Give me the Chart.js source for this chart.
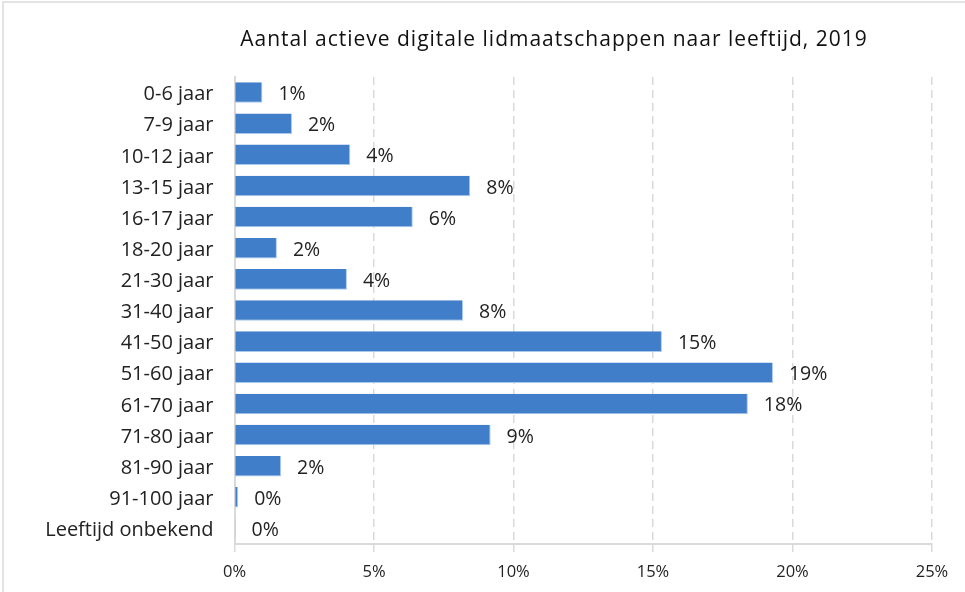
<!DOCTYPE html>
<html>
<head>
<meta charset="utf-8">
<script src="https://cdn.jsdelivr.net/npm/chart.js@4/dist/chart.umd.min.js"></script>
<style>
  html, body { margin: 0; padding: 0; background: #fff; }
  #wrap { width: 965px; height: 592px; position: relative; }
</style>
</head>
<body>
<div id="wrap"><canvas id="chart" width="965" height="592"></canvas></div>
<script>
const title = "Aantal actieve digitale lidmaatschappen naar leeftijd, 2019";
const categories = ["0-6 jaar", "7-9 jaar", "10-12 jaar", "13-15 jaar", "16-17 jaar", "18-20 jaar",
  "21-30 jaar", "31-40 jaar", "41-50 jaar", "51-60 jaar", "61-70 jaar", "71-80 jaar",
  "81-90 jaar", "91-100 jaar", "Leeftijd onbekend"];
// share of members in percent
const shares = [1.0, 2.06, 4.15, 8.45, 6.39, 1.52, 4.03, 8.19, 15.32, 19.3, 18.4, 9.18, 1.67, 0.13, 0.04];
const xTicks = [0, 5, 10, 15, 20, 25];

const FONT = "'Open Sans', Roboto, sans-serif";

// value labels at the end of each bar
const barLabels = {
  id: "barLabels",
  afterDatasetsDraw(chart) {
    const ctx = chart.ctx;
    const meta = chart.getDatasetMeta(0);
    ctx.save();
    ctx.font = "19.5px " + FONT;
    ctx.fillStyle = "#222";
    ctx.textBaseline = "middle";
    ctx.textAlign = "left";
    meta.data.forEach((bar, i) => {
      ctx.fillText(Math.round(shares[i]) + "%", bar.x + 16, bar.y + 2);
    });
    ctx.restore();
  }
};

// title + thin frame
const frame = {
  id: "frame",
  afterDraw(chart) {
    const ctx = chart.ctx;
    ctx.save();
    ctx.strokeStyle = "#e3e3e3";
    ctx.lineWidth = 2;
    ctx.strokeRect(3, 2, 1000, 1000);
    ctx.font = "21px " + FONT;
    ctx.letterSpacing = "1px";
    ctx.fillStyle = "#111";
    ctx.textAlign = "center";
    ctx.textBaseline = "middle";
    ctx.fillText(title, 554, 40);
    ctx.restore();
  }
};

new Chart(document.getElementById("chart"), {
  type: "bar",
  data: {
    labels: categories,
    datasets: [{
      data: shares,
      backgroundColor: "#407ec9",
      borderColor: "#a9c8ec",
      borderWidth: { right: 1, bottom: 1 },
      borderSkipped: "start",
      categoryPercentage: 0.66,
      barPercentage: 1.0
    }]
  },
  options: {
    indexAxis: "y",
    responsive: false,
    animation: false,
    layout: { padding: { top: 77, right: 33, left: 0, bottom: 0 } },
    plugins: {
      legend: { display: false },
      title: { display: false },
      tooltip: { enabled: false }
    },
    scales: {
      x: {
        min: 0,
        max: 25,
        afterBuildTicks(scale) { scale.ticks = xTicks.map(v => ({ value: v })); },
        afterFit(scale) { scale.height = 48; },
        grid: {
          color: "#d9d9d9",
          lineWidth: 1.5,
          tickLength: 8,
          tickColor: "#d9d9d9"
        },
        border: { display: true, color: "#d9d9d9", width: 2, dash: [8, 5] },
        ticks: {
          padding: 10,
          color: "#222",
          font: { family: FONT, size: 16.5 },
          callback: v => v + "%"
        }
      },
      y: {
        afterFit(scale) { scale.width = 234.5; },
        grid: { display: false, drawTicks: false },
        border: { display: true, color: "#d9d9d9", width: 2 },
        ticks: {
          padding: 21,
          labelOffset: 2,
          color: "#222",
          font: { family: FONT, size: 20 }
        }
      }
    }
  },
  plugins: [barLabels, frame]
});
</script>
</body>
</html>
